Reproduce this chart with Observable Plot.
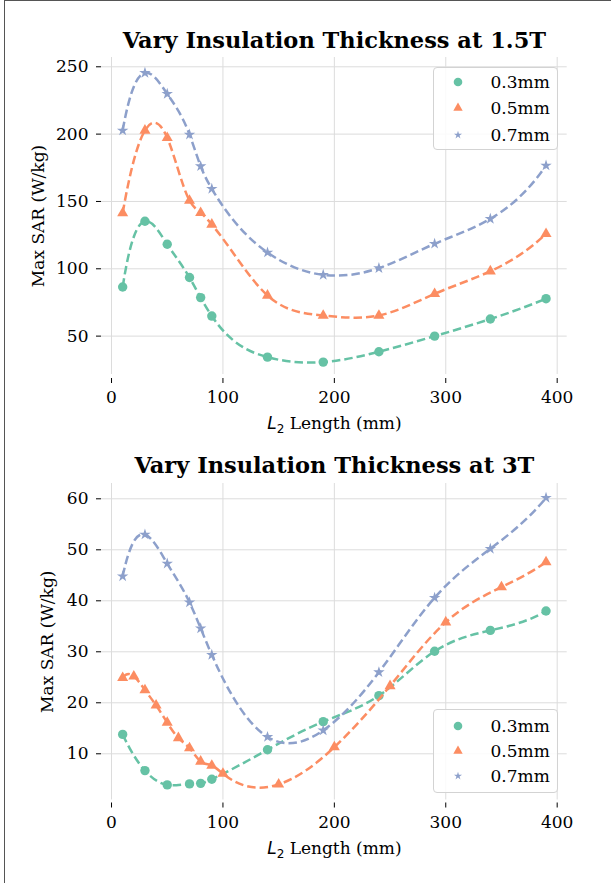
<!DOCTYPE html>
<html>
<head>
<meta charset="utf-8">
<script src="https://cdn.jsdelivr.net/npm/d3@7"></script>
<script src="https://cdn.jsdelivr.net/npm/@observablehq/plot@0.6"></script>
<style>
  html, body { margin: 0; padding: 0; background: #fff; }
  #wrap { position: relative; width: 611px; height: 883px; overflow: hidden; background: #fff; }
  .panel { position: absolute; left: 0; }
  .panel svg { display: block; }
  #frame { position: absolute; left: 4px; top: 0; width: 607px; height: 883px;
           border-left: 1px solid #555; border-top: 1px solid #555; pointer-events: none; }
  .legend { position: absolute; box-sizing: border-box; border: 1px solid #d3d3d3; border-radius: 4px;
            background: rgba(255,255,255,0.85); font-family: 'DejaVu Serif', serif; font-size: 17px; color: #000; }
  .legend .row { position: absolute; left: 0; width: 100%; height: 20px; }
  .legend .row svg { position: absolute; left: 14px; top: 0; overflow: visible; }
  .legend .row span { position: absolute; left: 57px; top: 0; line-height: 20px; white-space: nowrap; }
</style>
</head>
<body>
<div id="wrap">
  <div id="top" class="panel" style="top:0"></div>
  <div id="bottom" class="panel" style="top:440px"></div>
  <div id="frame"></div>
</div>
<script>
// ---------- data ----------
const thicknessLabels = ["0.3mm", "0.5mm", "0.7mm"];
const seriesColors = ["#66c2a5", "#fc8d62", "#8da0cb"];
const seriesSymbols = ["circle", "triangle", "star"];
const xTicks = [0, 100, 200, 300, 400];

// 1.5T
const x15 = [10, 30, 50, 70, 80, 90, 140, 190, 240, 290, 340, 390];
const sar15_03 = [86.5, 135.3, 118.2, 93.5, 78.6, 64.9, 34.4, 30.7, 38.4, 50.0, 62.7, 77.8];
const sar15_05 = [141.3, 202.7, 197.3, 150.7, 141.6, 132.9, 80.2, 65.3, 65.3, 81.4, 98.2, 126.0];
const sar15_07 = [202.7, 245.5, 229.9, 199.7, 176.2, 159.4, 112.1, 95.5, 100.5, 118.6, 137.1, 176.7];
const y15Ticks = [50, 100, 150, 200, 250];

// 3T
const x3_03 = [10, 30, 50, 70, 80, 90, 140, 190, 240, 290, 340, 390];
const sar3_03 = [13.8, 6.7, 3.9, 4.1, 4.2, 5.0, 10.8, 16.3, 21.4, 30.1, 34.2, 38.0];
const x3_05 = [10, 20, 30, 40, 50, 60, 70, 80, 90, 100, 150, 200, 250, 300, 350, 390];
const sar3_05 = [24.9, 25.2, 22.5, 19.5, 16.1, 13.1, 11.1, 8.5, 7.7, 6.1, 4.0, 11.3, 23.3, 35.8, 42.7, 47.6];
const x3_07 = [10, 30, 50, 70, 80, 90, 140, 190, 240, 290, 340, 390];
const sar3_07 = [44.8, 53.0, 47.3, 39.7, 34.6, 29.4, 13.3, 14.6, 26.0, 40.6, 50.2, 60.2];
const y3Ticks = [10, 20, 30, 40, 50, 60];

const xLabel = "L2 Length (mm)";
const yLabel = "Max SAR (W/kg)";

// ---------- cubic spline (not-a-knot) curve for Plot's line mark ----------
function solveLinear(A, b) {
  const n = b.length;
  for (let c = 0; c < n; c++) {
    let p = c;
    for (let r = c + 1; r < n; r++) if (Math.abs(A[r][c]) > Math.abs(A[p][c])) p = r;
    [A[c], A[p]] = [A[p], A[c]]; [b[c], b[p]] = [b[p], b[c]];
    for (let r = c + 1; r < n; r++) {
      const f = A[r][c] / A[c][c];
      for (let k = c; k < n; k++) A[r][k] -= f * A[c][k];
      b[r] -= f * b[c];
    }
  }
  const x = new Array(n).fill(0);
  for (let r = n - 1; r >= 0; r--) {
    let s = b[r];
    for (let k = r + 1; k < n; k++) s -= A[r][k] * x[k];
    x[r] = s / A[r][r];
  }
  return x;
}
function splineCurve(context) {
  let xs, ys;
  return {
    areaStart() {}, areaEnd() {},
    lineStart() { xs = []; ys = []; },
    point(x, y) { xs.push(+x); ys.push(+y); },
    lineEnd() {
      const n = xs.length;
      if (!n) return;
      context.moveTo(xs[0], ys[0]);
      if (n < 4) { for (let i = 1; i < n; i++) context.lineTo(xs[i], ys[i]); return; }
      const h = d3.range(n - 1).map(i => xs[i + 1] - xs[i]);
      const A = d3.range(n).map(() => new Array(n).fill(0));
      const b = new Array(n).fill(0);
      A[0][0] = h[1]; A[0][1] = -(h[0] + h[1]); A[0][2] = h[0];
      for (let i = 1; i < n - 1; i++) {
        A[i][i - 1] = h[i - 1]; A[i][i] = 2 * (h[i - 1] + h[i]); A[i][i + 1] = h[i];
        b[i] = 6 * ((ys[i + 1] - ys[i]) / h[i] - (ys[i] - ys[i - 1]) / h[i - 1]);
      }
      A[n - 1][n - 3] = h[n - 2]; A[n - 1][n - 2] = -(h[n - 3] + h[n - 2]); A[n - 1][n - 1] = h[n - 3];
      const M = solveLinear(A, b);
      for (let i = 0; i < n - 1; i++) {
        const hi = h[i], d = (ys[i + 1] - ys[i]) / hi;
        const m0 = d - hi * (2 * M[i] + M[i + 1]) / 6;
        const m1 = d + hi * (M[i] + 2 * M[i + 1]) / 6;
        context.bezierCurveTo(xs[i] + hi / 3, ys[i] + m0 * hi / 3,
                              xs[i + 1] - hi / 3, ys[i + 1] - m1 * hi / 3,
                              xs[i + 1], ys[i + 1]);
      }
    }
  };
}

const dotR = {circle: 4.7, triangle: 4.1, star: 3.6};

function makeChart(cfg) {
  const series = cfg.series.map((s, i) => ({
    color: seriesColors[i], symbol: seriesSymbols[i], label: thicknessLabels[i],
    rows: s.x.map((xv, j) => ({x: xv, y: s.y[j]}))
  }));
  const marks = [
    Plot.gridX(xTicks, {stroke: "#dcdcdc", strokeOpacity: 1, strokeWidth: 1}),
    Plot.gridY(cfg.yTicks, {stroke: "#dcdcdc", strokeOpacity: 1, strokeWidth: 1}),
    Plot.axisX({ticks: xTicks, tickSize: 5, tickPadding: cfg.xTickPadding, dy: cfg.xAxisDy, label: null, fontSize: 17, stroke: "#000"}),
    Plot.axisY({ticks: cfg.yTicks, tickSize: 5, tickPadding: 8, label: null, fontSize: 17, stroke: "#000"})
  ];
  for (const s of series) {
    marks.push(Plot.line(s.rows, {x: "x", y: "y", stroke: s.color, strokeWidth: 2.5,
      strokeDasharray: "8.5,4", strokeLinecap: "butt", curve: splineCurve}));
    marks.push(Plot.dot(s.rows, {x: "x", y: "y", fill: s.color, symbol: s.symbol, r: dotR[s.symbol], stroke: "none"}));
  }
  marks.push(
    Plot.text([cfg.title], {frameAnchor: "top", dy: cfg.titleDy, lineAnchor: "bottom", fontSize: 22.5, fontWeight: "bold", fill: "#000"}),
    Plot.text([xLabel], {frameAnchor: "bottom", dy: cfg.xLabelDy, lineAnchor: "bottom", fontSize: 17, fill: "#000"}),
    Plot.text([yLabel], {frameAnchor: "left", dx: cfg.yLabelDx, rotate: -90, lineAnchor: "bottom", textAnchor: "middle", fontSize: 17, fill: "#000"})
  );
  const svg = Plot.plot({
    width: 611, height: cfg.height,
    marginLeft: 101, marginRight: 44.3, marginTop: cfg.marginTop, marginBottom: cfg.marginBottom,
    style: {fontFamily: "'DejaVu Serif', serif", fontSize: "17px", color: "#000", background: "transparent", overflow: "visible"},
    x: {domain: [-9, 409]},
    y: {domain: cfg.yDomain},
    marks
  });
  // subscript / italic for the x label
  d3.select(svg).selectAll("text").filter(function () { return this.textContent === xLabel; })
    .each(function () {
      const t = d3.select(this);
      t.text(null);
      t.append("tspan").attr("font-family", "'DejaVu Sans', sans-serif").attr("font-style", "italic").text("L");
      t.append("tspan").attr("font-family", "'DejaVu Sans', sans-serif").attr("font-size", 12).attr("dy", 4).text("2");
      t.append("tspan").attr("dy", -4).text(" Length (mm)");
    });
  document.getElementById(cfg.target).appendChild(svg);

  // legend
  const lg = document.createElement("div");
  lg.className = "legend";
  Object.assign(lg.style, {left: cfg.legend.left + "px", top: cfg.legend.top + "px", width: "125.5px", height: cfg.legend.height + "px"});
  const legendSize = {circle: 58, triangle: 38, star: 20};
  const symMap = {circle: d3.symbolCircle, triangle: d3.symbolTriangle, star: d3.symbolStar};
  series.forEach((s, i) => {
    const row = document.createElement("div");
    row.className = "row";
    row.style.top = (cfg.legend.rows[i] - 10) + "px";
    const ms = d3.create("svg").attr("width", 20).attr("height", 20);
    ms.append("path").attr("transform", "translate(10,10)")
      .attr("d", d3.symbol(symMap[s.symbol], legendSize[s.symbol])()).attr("fill", s.color);
    row.appendChild(ms.node());
    const sp = document.createElement("span");
    sp.textContent = s.label;
    row.appendChild(sp);
    lg.appendChild(row);
  });
  document.getElementById("wrap").appendChild(lg);
}

makeChart({
  target: "top", height: 440, marginTop: 57, marginBottom: 66,
  yDomain: [21.5, 256.9], yTicks: y15Ticks,
  title: "Vary Insulation Thickness at 1.5T", titleDy: -10,
  xAxisDy: 4, xTickPadding: 7, xLabelDy: 54, yLabelDx: -57.5,
  series: [{x: x15, y: sar15_03}, {x: x15, y: sar15_05}, {x: x15, y: sar15_07}],
  legend: {left: 432.5, top: 67, height: 83, rows: [14, 40, 66.5]}
});
makeChart({
  target: "bottom", height: 443, marginTop: 43, marginBottom: 83.5,
  yDomain: [0.94, 63.0], yTicks: y3Ticks,
  title: "Vary Insulation Thickness at 3T", titleDy: -11,
  xAxisDy: 3, xTickPadding: 8, xLabelDy: 54, yLabelDx: -48.6,
  series: [{x: x3_03, y: sar3_03}, {x: x3_05, y: sar3_05}, {x: x3_07, y: sar3_07}],
  legend: {left: 432.5, top: 709, height: 83.5, rows: [15.5, 40.5, 66]}
});
</script>
</body>
</html>
